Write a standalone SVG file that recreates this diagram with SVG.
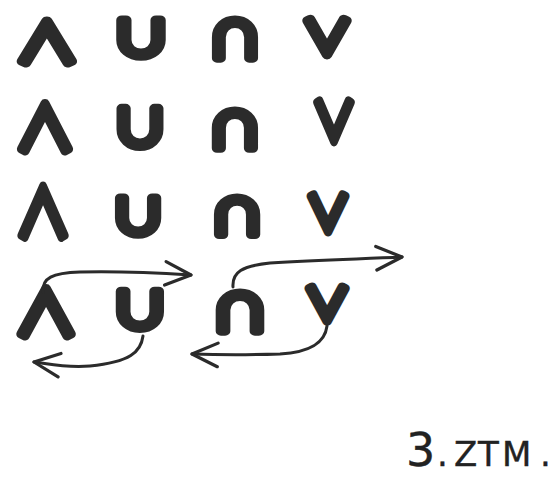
<svg xmlns="http://www.w3.org/2000/svg" width="557" height="484" viewBox="0 0 557 484">
<style>
.sym{font-family:"Noto Sans CJK JP","DejaVu Sans",sans-serif;fill:#2b2b2b;stroke:#2b2b2b;stroke-width:9;stroke-linejoin:round;stroke-linecap:round;text-anchor:middle}
.con{fill:none;stroke:#2b2b2b;stroke-width:3;stroke-linecap:round}
.note{font-family:"DejaVu Sans",sans-serif;font-size:34px;fill:#222;stroke:#222;stroke-width:0.4}
</style>
<defs>
<marker id="ah" markerUnits="userSpaceOnUse" markerWidth="30" markerHeight="28" viewBox="0 0 28 26" refX="26" refY="13" orient="auto">
<path d="M2,2 L26,13 L2,24" fill="none" stroke="#2b2b2b" stroke-width="3" stroke-linecap="round" stroke-linejoin="round"/>
</marker>
</defs>
<rect width="557" height="484" fill="#fff"/>
<g id="row1">
<g id="r1-and"><text class="sym" font-size="54" transform="translate(47,63) scale(1.19,1)">∧</text></g>
<g id="r1-cup"><text class="sym" font-size="48" transform="translate(141,55.5) scale(1.24,1)">∪</text></g>
<g id="r1-cap"><text class="sym" font-size="50" transform="translate(235,58) scale(1.12,1)">∩</text></g>
<g id="r1-or"><text class="sym" font-size="46" transform="translate(327,54) scale(1.11,1)">∨</text></g>
</g>
<g id="row2">
<g id="r2-and"><text class="sym" font-size="61" transform="translate(45,150.5)">∧</text></g>
<g id="r2-cup"><text class="sym" font-size="50" transform="translate(140,145.5) scale(1.14,1)">∪</text></g>
<g id="r2-cap"><text class="sym" font-size="49" transform="translate(235,147.5) scale(1.14,1)">∩</text></g>
<g id="r2-or"><text class="sym" font-size="53" transform="translate(334,140.5) scale(0.83,1)">∨</text></g>
</g>
<g id="row3">
<g id="r3-and"><text class="sym" font-size="66" transform="translate(43,236.5) scale(0.85,1)">∧</text></g>
<g id="r3-cup"><text class="sym" font-size="48" transform="translate(138,233.5) scale(1.16,1)">∪</text></g>
<g id="r3-cap"><text class="sym" font-size="48" transform="translate(237,233.5) scale(1.16,1)">∩</text></g>
<g id="r3-or"><text class="sym" font-size="48" transform="translate(328,230.5) scale(0.93,1)">∨</text></g>
</g>
<g id="row4">
<g id="r4-and"><text class="sym" font-size="61" transform="translate(46,335.5) scale(1.06,1)">∧</text></g>
<g id="r4-cup"><text class="sym" font-size="49" transform="translate(140,327.5) scale(1.19,1)">∪</text></g>
<g id="r4-cap"><text class="sym" font-size="50" transform="translate(240,330.5) scale(1.18,1)">∩</text></g>
<g id="r4-or"><text class="sym" font-size="44" transform="translate(327,320.5) scale(1.05,1)">∨</text></g>
</g>
<g id="connectors">
<path class="con" marker-end="url(#ah)" d="M43,292 C42,278 52,273 80,272 C120,271 160,273 191,275"/>
<path class="con" marker-end="url(#ah)" d="M233,287 C232,272 242,266 270,263 C320,260 360,259 402,257"/>
<path class="con" marker-end="url(#ah)" d="M143,336 C141,352 130,362 90,366 C65,368 50,364 34,362"/>
<path class="con" marker-end="url(#ah)" d="M327,326 C325,342 312,352 280,354 C250,355 220,355 192,354"/>
</g>
<g id="label"><text class="note" y="466"><tspan x="406" font-size="46">3</tspan><tspan x="437">.</tspan><tspan x="454">Z</tspan><tspan x="478">T</tspan><tspan x="502">M</tspan><tspan x="540">.</tspan></text></g>
</svg>
